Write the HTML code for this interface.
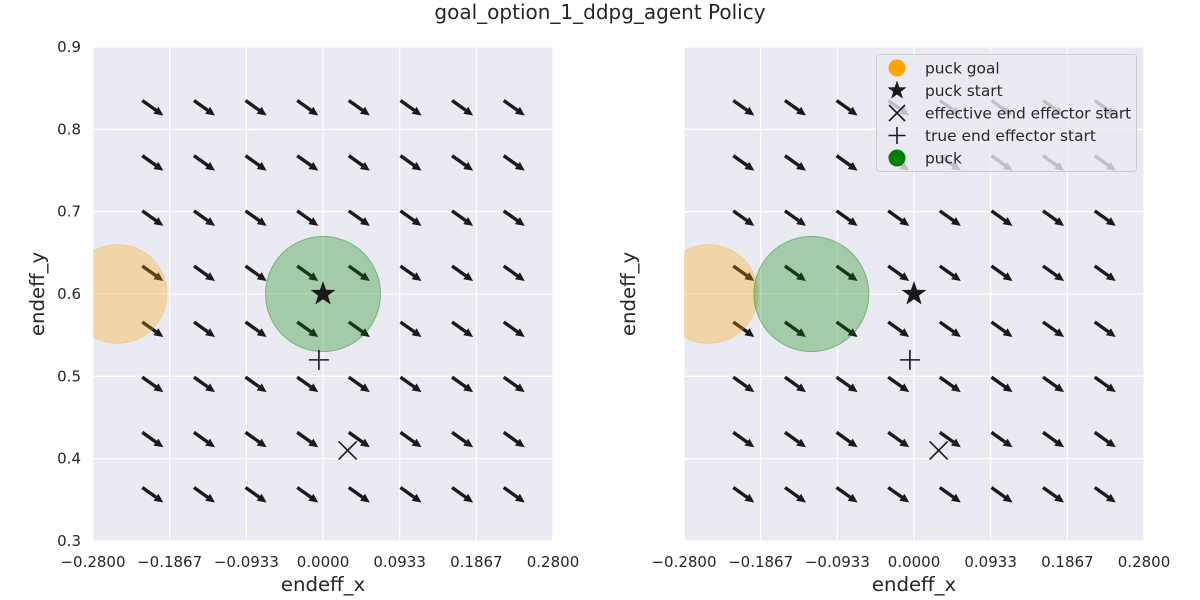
<!DOCTYPE html>
<html><head><meta charset="utf-8"><style>
body{margin:0;background:#fff;font-family:"DejaVu Sans","Liberation Sans",sans-serif}
svg{display:block}
text{fill:#262626;font-family:"DejaVu Sans","Liberation Sans",sans-serif}
</style></head><body>
<svg id="chart" width="1200" height="600" viewBox="0 0 1200 600" xmlns="http://www.w3.org/2000/svg">
<text x="600" y="19" text-anchor="middle" font-size="20">goal_option_1_ddpg_agent Policy</text>
</svg>
<script>
const gridX=[-0.22,-0.1571,-0.0943,-0.0314,0.0314,0.0943,0.1571,0.22];
const gridY=[0.835,0.768,0.701,0.634,0.566,0.499,0.432,0.365];
const arrowU=0.0256, arrowV=-0.0182;
const xTicks=[-0.28,-0.1867,-0.0933,0,0.0933,0.1867,0.28];
const xTickLabels=["\u22120.2800","\u22120.1867","\u22120.0933","0.0000","0.0933","0.1867","0.2800"];
const yTicks=[0.3,0.4,0.5,0.6,0.7,0.8,0.9];
const yTickLabels=["0.3","0.4","0.5","0.6","0.7","0.8","0.9"];
const goal=[-0.25,0.6], goalR=0.06;
const puckStart=[0,0.6];
const effStart=[0.03,0.41];
const trueStart=[-0.005,0.52];
const puckLeft=[0,0.6], puckRight=[-0.125,0.6], puckR=0.07;
const NS="http://www.w3.org/2000/svg";
const svg=document.getElementById('chart');
function mk(tag,attrs,parent){const e=document.createElementNS(NS,tag);for(const k in attrs)e.setAttribute(k,attrs[k]);(parent||svg).appendChild(e);return e;}
function panel(x0,name,puck,showY){
  const W=460,H=494,y0=47;
  const sx=v=>x0+(v+0.28)/0.56*W, sy=v=>y0+H-(v-0.3)/0.6*H;
  const g=mk('g',{});
  
  
  const clipId='clip-'+name;
  const cp=mk('clipPath',{id:clipId},g);mk('rect',{x:x0,y:y0,width:W,height:H},cp);
  const bg=mk('rect',{x:x0,y:y0,width:W,height:H,fill:'#eaeaf2'},g);
  
  
  xTicks.forEach((t,i)=>{
    const l=mk('line',{x1:sx(t),x2:sx(t),y1:y0,y2:y0+H,stroke:'#fff','stroke-width':1.3},g);
    
    
    const tx=mk('text',{x:sx(t),y:y0+H+26,'text-anchor':'middle','font-size':15},g);tx.textContent=xTickLabels[i];
    
    
  });
  yTicks.forEach((t,i)=>{
    const l=mk('line',{x1:x0,x2:x0+W,y1:sy(t),y2:sy(t),stroke:'#fff','stroke-width':1.3},g);
    
    
    if(showY){const tx=mk('text',{x:x0-12,y:sy(t)+5,'text-anchor':'end','font-size':15},g);tx.textContent=yTickLabels[i];
    
    }
  });
  const xl=mk('text',{x:x0+W/2,y:591,'text-anchor':'middle','font-size':19.7},g);xl.textContent='endeff_x';
  
  
  const yl=mk('text',{x:0,y:0,'text-anchor':'middle','font-size':19.7,transform:`translate(${x0-49},${y0+H/2}) rotate(-90)`},g);yl.textContent='endeff_y';
  
  
  const cg=mk('g',{'clip-path':`url(#${clipId})`},g);
  gridY.forEach(yv=>gridX.forEach(xv=>{
    const x1=sx(xv),y1=sy(yv),x2=sx(xv+arrowU),y2=sy(yv+arrowV);
    const dx=x2-x1,dy=y2-y1,L=Math.hypot(dx,dy),ux=dx/L,uy=dy/L,nx=-uy,ny=ux;
    const hl=9,sw=1.7,hw=4.3;
    const bx=x2-ux*hl,by=y2-uy*hl;
    const pts=[[x1+nx*sw,y1+ny*sw],[bx+nx*sw,by+ny*sw],[bx+nx*hw,by+ny*hw],[x2,y2],[bx-nx*hw,by-ny*hw],[bx-nx*sw,by-ny*sw],[x1-nx*sw,y1-ny*sw]];
    const a=mk('polygon',{points:pts.map(p=>p.join(',')).join(' '),fill:'#1a1a1a'},cg);
    
    
  }));
  const gc=mk('ellipse',{cx:sx(goal[0]),cy:sy(goal[1]),rx:goalR/0.56*W,ry:goalR/0.6*H,fill:'orange','fill-opacity':0.3,stroke:'orange','stroke-opacity':0.3},cg);
  
  
  const pc=mk('ellipse',{cx:sx(puck[0]),cy:sy(puck[1]),rx:puckR/0.56*W,ry:puckR/0.6*H,fill:'green','fill-opacity':0.3,stroke:'green','stroke-opacity':0.4},cg);
  
  
  star(sx(puckStart[0]),sy(puckStart[1]),13,cg);
  cross(sx(effStart[0]),sy(effStart[1]),9,cg);
  plus(sx(trueStart[0]),sy(trueStart[1]),10,cg);
  return g;
}
function star(cx,cy,r,p){let pts=[];for(let i=0;i<10;i++){const rr=i%2?r*0.4:r,a=-Math.PI/2+i*Math.PI/5;pts.push([cx+rr*Math.cos(a),cy+rr*Math.sin(a)]);}
  const s=mk('polygon',{points:pts.map(q=>q.join(',')).join(' '),fill:'#1a1a1a'},p);
  
  }
function cross(cx,cy,r,p){const s=mk('path',{d:`M${cx-r},${cy-r}L${cx+r},${cy+r}M${cx-r},${cy+r}L${cx+r},${cy-r}`,stroke:'#1a1a1a','stroke-width':1.6},p);
  
  }
function plus(cx,cy,r,p){const s=mk('path',{d:`M${cx-r},${cy}L${cx+r},${cy}M${cx},${cy-r}L${cx},${cy+r}`,stroke:'#1a1a1a','stroke-width':1.6},p);
  
  }
panel(93,'left-panel',puckLeft,true);
panel(684,'right-panel',puckRight,false);
const lg=mk('g',{});


mk('rect',{x:876.5,y:54.5,width:260,height:117,rx:3,fill:'#eaeaf2','fill-opacity':0.8,stroke:'#cccccc'},lg);
const labels=['puck goal','puck start','effective end effector start','true end effector start','puck'];
labels.forEach((t,i)=>{
  const y=68+i*22.5;
  const tx=mk('text',{x:925,y:y+5.5,'font-size':15.4},lg);tx.textContent=t;
  
  
});
const c1=mk('circle',{cx:897,cy:68,r:8.5,fill:'orange'},lg);


star(897,90.5,10,lg);
cross(897,113,8,lg);
plus(897,135.5,8.5,lg);
const c2=mk('circle',{cx:897,cy:158,r:8.5,fill:'green'},lg);


</script>
</body></html>
